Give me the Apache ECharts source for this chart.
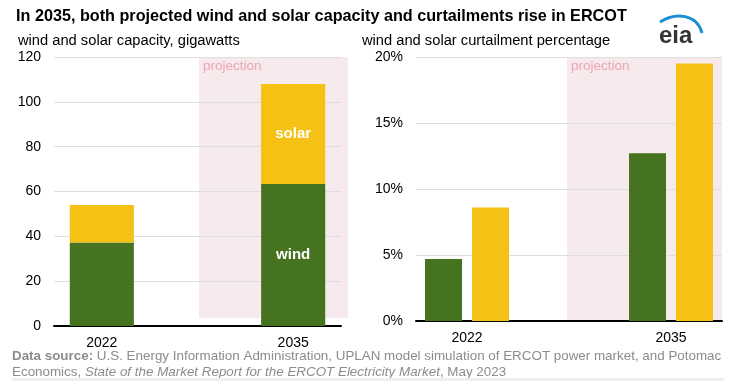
<!DOCTYPE html>
<html><head><meta charset="utf-8">
<script src="https://cdn.jsdelivr.net/npm/echarts@6/dist/echarts.min.js"></script>
<style>html,body{margin:0;padding:0;background:#fff}#c{width:739px;height:385px}</style>
</head><body><div id="c"></div>
<script>
const categories = ['2022', '', '2035'];
const capWind = [37.3, null, 63.3];
const capSolar = [16.7, null, 44.7];
const curtWind = [4.7, null, 12.7];
const curtSolar = [8.6, null, 19.5];
const capTicks = [0, 20, 40, 60, 80, 100, 120];
const pctTicks = [0, 5, 10, 15, 20];

const GREEN = '#46731f', YELLOW = '#f4c114', PINK = '#f7eaed';
const chart = echarts.init(document.getElementById('c'), null, {renderer: 'canvas'});
const font = 'Liberation Sans, Arial, sans-serif';

const axisLabel = {color: '#000', fontSize: 14, fontFamily: font};
chart.setOption({
  animation: false,
  textStyle: {fontFamily: font},
  title: [
    {text: 'In 2035, both projected wind and solar capacity and curtailments rise in ERCOT', left: 11, top: 4,
     textStyle: {fontSize: 16.2, fontWeight: 'bold', color: '#000', fontFamily: font}},
    {text: 'wind and solar capacity, gigawatts', left: 13, top: 28,
     textStyle: {fontSize: 14.7, fontWeight: 'normal', color: '#000', fontFamily: font}},
    {text: 'wind and solar curtailment percentage', left: 357, top: 28,
     textStyle: {fontSize: 14.7, fontWeight: 'normal', color: '#000', fontFamily: font}}
  ],
  grid: [
    {left: 54, right: 398, top: 57, bottom: 59},
    {left: 416, right: 17, top: 57, bottom: 64}
  ],
  xAxis: [
    {type: 'category', gridIndex: 0, data: categories, axisTick: {show: false},
     axisLine: {lineStyle: {color: '#000', width: 2}}, axisLabel: Object.assign({margin: 10, interval: 0}, axisLabel)},
    {type: 'category', gridIndex: 1, data: categories, axisTick: {show: false},
     axisLine: {lineStyle: {color: '#000', width: 2}}, axisLabel: Object.assign({margin: 10, interval: 0}, axisLabel)}
  ],
  yAxis: [
    {type: 'value', gridIndex: 0, min: capTicks[0], max: capTicks[capTicks.length - 1], interval: 20,
     axisLine: {show: false}, axisTick: {show: false},
     splitLine: {lineStyle: {color: '#dedede', width: 1}},
     axisLabel: Object.assign({margin: 13}, axisLabel)},
    {type: 'value', gridIndex: 1, min: pctTicks[0], max: pctTicks[pctTicks.length - 1], interval: 5,
     axisLine: {show: false}, axisTick: {show: false},
     splitLine: {lineStyle: {color: '#dedede', width: 1}},
     axisLabel: Object.assign({margin: 13, formatter: '{value}%'}, axisLabel)}
  ],
  series: [
    {name: 'wind', type: 'bar', stack: 'cap', xAxisIndex: 0, yAxisIndex: 0, barWidth: '67%',
     itemStyle: {color: GREEN},
     data: capWind.map((v, i) => i === 2 ? {value: v, label: {show: true, position: 'inside', formatter: 'wind', color: '#fff', fontWeight: 'bold', fontSize: 15}} : v)},
    {name: 'solar', type: 'bar', stack: 'cap', xAxisIndex: 0, yAxisIndex: 0, barWidth: '67%',
     itemStyle: {color: YELLOW},
     data: capSolar.map((v, i) => i === 2 ? {value: v, label: {show: true, position: 'inside', formatter: 'solar', color: '#fff', fontWeight: 'bold', fontSize: 15}} : v)},
    {name: 'wind curtailment', type: 'bar', xAxisIndex: 1, yAxisIndex: 1, barWidth: 37, barGap: '27%',
     itemStyle: {color: GREEN}, data: curtWind},
    {name: 'solar curtailment', type: 'bar', xAxisIndex: 1, yAxisIndex: 1, barWidth: 37, barGap: '27%',
     itemStyle: {color: YELLOW}, data: curtSolar}
  ],
  graphic: [
    {type: 'rect', z: -10, silent: true, shape: {x: 199, y: 57, width: 149, height: 261}, style: {fill: PINK}},
    {type: 'rect', z: -10, silent: true, shape: {x: 567, y: 57, width: 155, height: 264}, style: {fill: PINK}},
    {type: 'text', z: 5, left: 203, top: 59, style: {text: 'projection', fill: '#eaa6b1', font: '13.5px ' + font}},
    {type: 'text', z: 5, left: 571, top: 59, style: {text: 'projection', fill: '#eaa6b1', font: '13.5px ' + font}},
    {type: 'text', z: 5, left: 659, top: 24, style: {text: 'eia', fill: '#333', font: 'bold 24px ' + font}},
    {type: 'bezierCurve', z: 5, shape: {x1: 660, y1: 22, cpx1: 676, cpy1: 12, cpx2: 697, cpy2: 14, x2: 702, y2: 33},
     style: {stroke: '#1a8fd1', lineWidth: 3, fill: null}},
    {type: 'text', z: 5, left: 12, top: 348, style: {
      text: '{b|Data source:} U.S. Energy Information Administration, UPLAN model simulation of ERCOT power market, and Potomac\nEconomics, {i|State of the Market Report for the ERCOT Electricity Market}, May 2023',
      rich: {b: {fontWeight: 'bold', fill: '#8c8c8c', fontSize: 13.4, fontFamily: font},
             i: {fontStyle: 'italic', fill: '#8c8c8c', fontSize: 13.4, fontFamily: font}},
      fill: '#8c8c8c', font: '13.4px ' + font, lineHeight: 16}},
    {type: 'rect', z: 5, silent: true, shape: {x: 12, y: 378, width: 712, height: 3}, style: {fill: '#efefef'}}
  ]
});
</script></body></html>
